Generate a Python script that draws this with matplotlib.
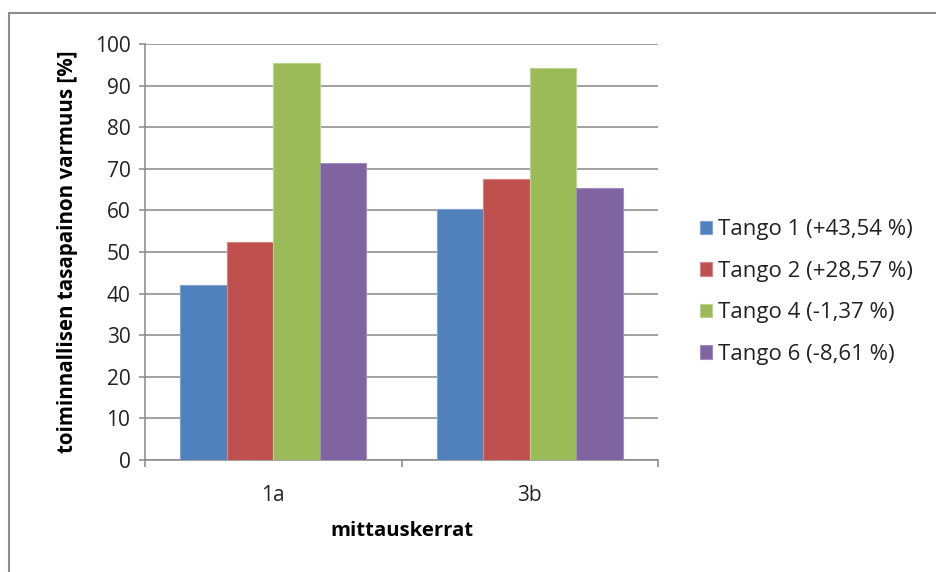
import matplotlib.pyplot as plt
from matplotlib.patches import Rectangle
import numpy as np

plt.rcParams['font.family'] = ['Open Sans', 'DejaVu Sans']

categories = ['1a', '3b']
series = ['Tango 1 (+43,54 %)', 'Tango 2 (+28,57 %)', 'Tango 4 (-1,37 %)', 'Tango 6 (-8,61 %)']
values = [
    [42.0, 60.3],
    [52.5, 67.5],
    [95.5, 94.2],
    [71.4, 65.4],
]
colors = ['#4F81BD', '#C0504D', '#9BBB59', '#8064A2']
edges = ['#7FA3D3', '#D88683', '#BBD48D', '#A38CC0']

W, H = 936, 572
fig = plt.figure(figsize=(W / 100, H / 100), dpi=100)

# outer chart border (right and bottom edges fall outside the image)
fig.patches.append(Rectangle((9 / W, -0.1), 1.2, 1.1 - 13 / H, transform=fig.transFigure,
                             fill=False, edgecolor='#8C8C8C', linewidth=1.5))

ax = fig.add_axes([145 / W, (H - 460) / H, 513 / W, 416 / H])

x = np.arange(len(categories))
w = 0.181
for i, (name, vals) in enumerate(zip(series, values)):
    ax.bar(x + (i - 1.5) * w, vals, width=w, color=colors[i], edgecolor=edges[i],
           linewidth=0.8, label=name, zorder=3)

ax.set_xlim(-0.5, 1.5)
ax.set_ylim(0, 100)
ax.set_yticks(np.arange(0, 101, 10))
ax.yaxis.grid(True, color='#878787', linewidth=1.1, zorder=0)
ax.set_axisbelow(True)

ax.set_xticks([-0.5, 0.5, 1.5])
ax.set_xticklabels([])
ax.set_xticks(x, minor=True)
ax.set_xticklabels(categories, minor=True)
ax.tick_params(axis='x', which='major', length=5, color='#878787', width=1.1)
ax.tick_params(axis='x', which='minor', length=0, pad=18, labelsize=15, labelcolor='#222222')
ax.tick_params(axis='y', length=4.5, color='#878787', width=1.1, pad=6, labelsize=15,
               labelcolor='#222222')

for s in ['top', 'right']:
    ax.spines[s].set_visible(False)
for s in ['left', 'bottom']:
    ax.spines[s].set_color('#878787')
    ax.spines[s].set_linewidth(1.1)

ax.set_ylabel('toiminnallisen tasapainon varmuus [%]', fontsize=14.8, fontweight='bold',
              labelpad=12)
ax.set_xlabel('mittauskerrat', fontsize=14.6, fontweight='bold', labelpad=11)

fig.legend(loc='center left', bbox_to_anchor=(680 / W, 1 - 292 / H), frameon=False,
           fontsize=16, handlelength=0.55, handleheight=0.55, handletextpad=0.28,
           labelspacing=0.92, labelcolor='#222222')

fig.savefig('out.png', dpi=100)
